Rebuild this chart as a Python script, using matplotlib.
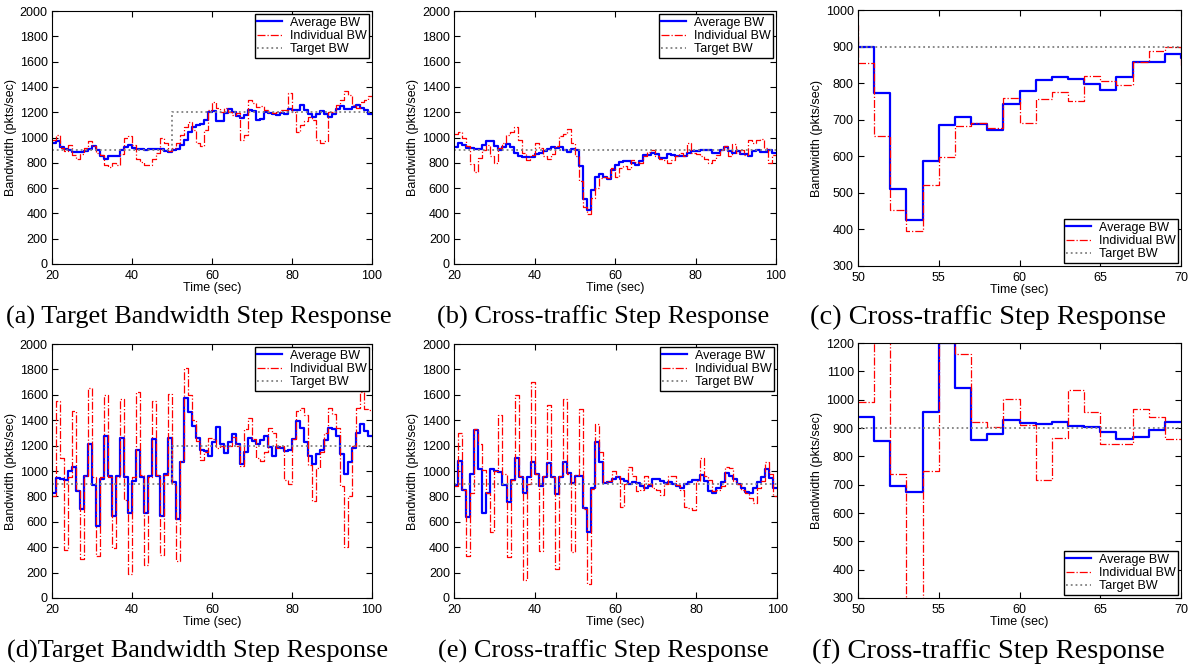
import numpy as np
import matplotlib.pyplot as plt

plt.rcParams['font.family'] = 'Liberation Sans'

# start time of every 1 s interval
t = np.arange(20, 100)
t_zoom = np.arange(50, 70)

# (a) target bandwidth step
a_avg = [960, 975, 926, 913, 903, 887, 882, 887, 895, 913,
         934, 900, 853, 834, 855, 855, 855, 900, 926, 940,
         921, 913, 908, 900, 908, 913, 913, 913, 895, 882,
         900, 913, 940, 979, 1045, 1084, 1097, 1105, 1137, 1203,
         1208, 1129, 1129, 1197, 1224, 1203, 1171, 1155, 1176, 1221,
         1210, 1142, 1150, 1203, 1195, 1182, 1176, 1197, 1182, 1229,
         1216, 1221, 1260, 1221, 1182, 1163, 1182, 1208, 1189, 1163,
         1189, 1229, 1250, 1229, 1229, 1242, 1255, 1237, 1216, 1182]
a_ind = [980, 1020, 920, 890, 940, 860, 830, 870, 920, 970,
         930, 880, 860, 780, 770, 800, 780, 870, 1000, 1010,
         940, 830, 810, 780, 780, 830, 880, 1000, 960, 890,
         920, 960, 1020, 1080, 1120, 1060, 960, 930, 1060, 1220,
         1280, 1230, 1200, 1230, 1200, 1180, 1190, 980, 1020, 1300,
         1270, 1240, 1250, 1220, 1200, 1190, 1200, 1220, 1220, 1350,
         1200, 1040, 1100, 1130, 1160, 1140, 980, 960, 970, 1200,
         1200, 1260, 1300, 1370, 1340, 1260, 1230, 1280, 1300, 1330]

# (b)/(c) cross-traffic step
b_avg = [926, 960, 939, 921, 921, 913, 913, 939, 974, 974,
         932, 900, 926, 945, 926, 879, 853, 847, 842, 847,
         868, 874, 895, 913, 926, 918, 926, 900, 882, 913,
         900, 772, 510, 427, 588, 686, 708, 688, 673, 744,
         779, 808, 817, 811, 798, 780, 816, 858, 858, 880,
         870, 840, 840, 870, 860, 855, 855, 855, 880, 895,
         895, 900, 900, 900, 880, 880, 900, 925, 895, 880,
         895, 870, 870, 855, 890, 905, 885, 885, 900, 875]
b_ind = [1030, 1040, 1000, 930, 790, 730, 840, 900, 940, 850,
         800, 920, 960, 1020, 1040, 1080, 980, 880, 820, 860,
         960, 920, 850, 830, 870, 930, 1010, 1030, 1070, 960,
         855, 655, 453, 395, 522, 598, 683, 690, 678, 760,
         690, 757, 776, 752, 820, 806, 796, 857, 888, 900,
         850, 830, 820, 800, 820, 850, 880, 850, 960, 880,
         870, 850, 830, 800, 820, 860, 900, 930, 850, 950,
         880, 900, 860, 980, 960, 980, 990, 920, 800, 860]

# (d) target bandwidth step, second run
d_avg = [830, 943, 937, 929, 1000, 1032, 843, 701, 964, 1216,
         890, 570, 937, 1278, 964, 646, 961, 1263, 956, 670,
         921, 1168, 956, 672, 958, 1252, 961, 649, 977, 1263,
         916, 622, 1068, 1578, 1468, 1355, 1263, 1166, 1158, 1121,
         1231, 1349, 1213, 1139, 1231, 1292, 1216, 1055, 1153, 1263,
         1237, 1213, 1244, 1276, 1189, 1121, 1192, 1184, 1158, 1166,
         1252, 1394, 1342, 1226, 1121, 1053, 1132, 1166, 1244, 1336,
         1328, 1278, 1132, 977, 1074, 1179, 1297, 1370, 1315, 1278]
d_ind = [800, 1550, 1100, 380, 950, 1470, 850, 310, 960, 1650,
         950, 330, 950, 1600, 950, 390, 950, 1570, 770, 190,
         950, 1620, 970, 260, 950, 1550, 970, 340, 970, 1610,
         900, 290, 1080, 1810, 1600, 1400, 1240, 1090, 1150, 1260,
         1250, 1180, 1200, 1180, 1200, 1270, 1200, 1040, 1330, 1420,
         1250, 1100, 1080, 1150, 1340, 1300, 1180, 1200, 930, 900,
         1250, 1470, 1500, 1440, 1050, 760, 1020, 1150, 1300, 1500,
         1450, 1340, 880, 400, 800, 1200, 1500, 1620, 1490, 1480]

# (e) cross-traffic step, second run
e_avg = [890, 1082, 851, 641, 977, 1323, 1013, 667, 830, 1013,
         1003, 990, 890, 759, 930, 1100, 956, 825, 950, 1069,
         977, 882, 950, 1061, 950, 817, 956, 1074, 982, 903,
         964, 964, 712, 523, 864, 1226, 1074, 903, 916, 935,
         955, 940, 924, 895, 916, 903, 884, 870, 880, 940,
         940, 920, 905, 916, 900, 880, 870, 900, 916, 930,
         930, 968, 920, 840, 825, 863, 916, 982, 960, 940,
         900, 863, 831, 824, 863, 916, 950, 1015, 945, 870]
e_ind = [880, 1297, 850, 330, 830, 1330, 1210, 1010, 830, 520,
         1000, 1440, 980, 320, 930, 1600, 960, 140, 900, 1700,
         980, 370, 960, 1520, 950, 230, 960, 1570, 980, 360,
         970, 1490, 700, 110, 860, 1370, 1150, 910, 920, 1000,
         960, 720, 900, 1030, 960, 840, 850, 960, 900, 870,
         850, 810, 900, 960, 960, 890, 850, 720, 710, 690,
         920, 1100, 960, 930, 840, 850, 880, 1030, 1020, 920,
         900, 850, 830, 790, 750, 870, 920, 1070, 980, 800]

# (f) close-up run, 50..70 s
f_avg = [940, 853, 696, 673, 955, 1200, 1040, 857, 878, 930,
         918, 913, 922, 906, 905, 885, 862, 870, 893, 920]
f_ind = [993, 1400, 738, 150, 750, 1260, 1160, 922, 905, 1003,
         910, 718, 865, 1033, 958, 842, 845, 968, 940, 862]

# target bandwidth (breakpoints)
step_times = [20, 50, 100]
step_levels = [900, 1200, 1200]
flat_times = [20, 100]
flat_levels = [900, 900]

captions = ['(a) Target Bandwidth Step Response',
            '(b) Cross-traffic Step Response',
            '(c) Cross-traffic Step Response',
            '(d)Target Bandwidth Step Response',
            '(e) Cross-traffic Step Response',
            '(f) Cross-traffic Step Response']
caption_x = [199, 603, 988, 198, 603, 988]  # centres in pixels
caption_size = [19, 19, 20.5, 19, 19, 20.5]


def stairs(x, y):
    x = np.append(x, x[-1] + 1)
    y = np.append(y, y[-1])
    return x, y


fig = plt.figure(figsize=(11.92, 6.68), dpi=100)
boxes = [[0.0436, 0.6048, 0.2685, 0.3787],
         [0.3809, 0.6048, 0.2701, 0.3787],
         [0.7198, 0.6018, 0.2710, 0.3832],
         [0.0436, 0.1048, 0.2685, 0.3802],
         [0.3809, 0.1048, 0.2710, 0.3802],
         [0.7198, 0.1048, 0.2710, 0.3817]]

panels = [(t, a_avg, a_ind, step_times, step_levels),
          (t, b_avg, b_ind, flat_times, flat_levels),
          (t, b_avg, b_ind, flat_times, flat_levels),
          (t, d_avg, d_ind, step_times, step_levels),
          (t, e_avg, e_ind, flat_times, flat_levels),
          (t_zoom, f_avg, f_ind, flat_times, flat_levels)]

for i, (tt, avg, ind, tx, ty) in enumerate(panels):
    ax = fig.add_axes(boxes[i])
    x1, y1 = stairs(tt, avg)
    x2, y2 = stairs(tt, ind)
    ax.plot(x1, y1, drawstyle='steps-post', color='#0000ff', lw=1.6,
            label='Average BW')
    ax.plot(x2, y2, drawstyle='steps-post', color='#ff0000', lw=0.9,
            ls='-.', label='Individual BW')
    ax.plot(tx, ty, drawstyle='steps-post', color='#808080', lw=1.3,
            ls=':', label='Target BW')

    if i in (2, 5):
        ax.set_xlim(50, 70)
        ax.set_xticks([50, 55, 60, 65, 70])
        top = 1000 if i == 2 else 1200
        ax.set_ylim(300, top)
        ax.set_yticks(np.arange(300, top + 1, 100))
        loc = 'lower right'
    else:
        ax.set_xlim(20, 100)
        ax.set_xticks([20, 40, 60, 80, 100])
        ax.set_ylim(0, 2000)
        ax.set_yticks(np.arange(0, 2001, 200))
        loc = 'upper right'

    ax.tick_params(direction='in', top=True, right=True, length=4,
                   width=0.8, labelsize=9)
    ax.tick_params(axis='x', pad=4.5)
    ax.tick_params(axis='y', pad=3)
    for s in ax.spines.values():
        s.set_linewidth(0.8)
    ax.set_xlabel('Time (sec)', fontsize=9, labelpad=0)
    ax.set_ylabel('Bandwidth (pkts/sec)', fontsize=9, labelpad=2)

    leg = ax.legend(loc=loc, fontsize=9, fancybox=False, framealpha=1,
                    edgecolor='black', handlelength=2.0, labelspacing=0.1,
                    borderpad=0.2, borderaxespad=0.25, handletextpad=0.6)
    leg.get_frame().set_linewidth(1.0)

    cy = 317 if i < 3 else 651
    fig.text(caption_x[i] / 1192, 1 - cy / 668, captions[i],
             ha='center', va='center', fontsize=caption_size[i],
             family='Liberation Serif')

fig.savefig('out.png', dpi=100)
